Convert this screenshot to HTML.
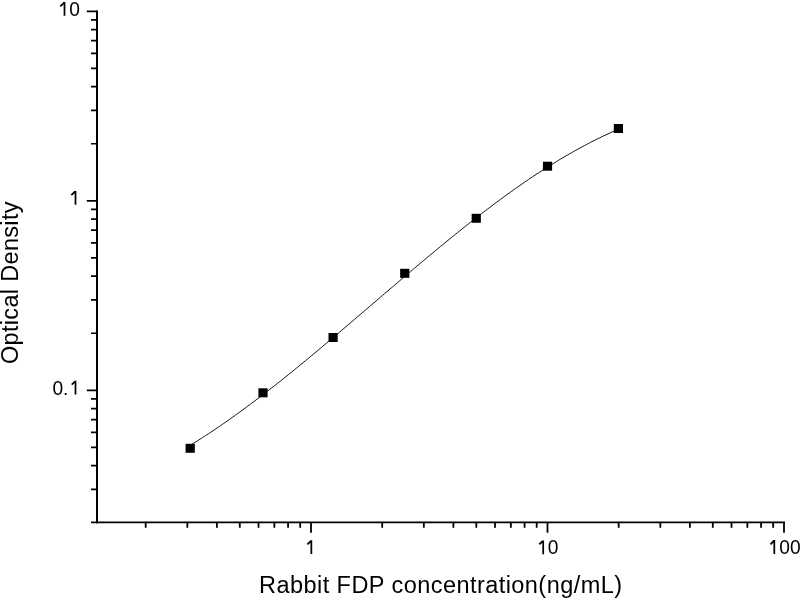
<!DOCTYPE html>
<html><head><meta charset="utf-8"><style>
html,body{margin:0;padding:0;background:#fff;}
body{width:800px;height:600px;overflow:hidden;}
svg{display:block;will-change:transform;font-family:"Liberation Sans",sans-serif;}
</style></head><body>
<svg width="800" height="600" viewBox="0 0 800 600">
<rect width="800" height="600" fill="#fff"/>
<path d="M97.0 10.6V523.1999999999999" stroke="#000" stroke-width="2" fill="none"/>
<path d="M96.0 522.4H785.0" stroke="#000" stroke-width="1.6" fill="none"/>
<path d="M91.0 522.40H97.0M91.0 489.39H97.0M91.0 465.71H97.0M91.0 447.35H97.0M91.0 432.34H97.0M91.0 419.65H97.0M91.0 408.66H97.0M91.0 398.97H97.0M86.8 390.30H97.0M91.0 333.25H97.0M91.0 299.89H97.0M91.0 276.21H97.0M91.0 257.85H97.0M91.0 242.84H97.0M91.0 230.15H97.0M91.0 219.16H97.0M91.0 209.47H97.0M86.8 200.80H97.0M91.0 143.75H97.0M91.0 110.39H97.0M91.0 86.71H97.0M91.0 68.35H97.0M91.0 53.34H97.0M91.0 40.65H97.0M91.0 29.66H97.0M91.0 19.97H97.0M86.8 11.30H97.0" stroke="#000" stroke-width="1.7" fill="none"/>
<path d="M145.69 522.4V527.7M187.34 522.4V527.7M216.89 522.4V527.7M239.81 522.4V527.7M258.53 522.4V527.7M274.37 522.4V527.7M288.08 522.4V527.7M300.18 522.4V527.7M311.00 522.4V532.7M382.19 522.4V527.7M423.84 522.4V527.7M453.39 522.4V527.7M476.31 522.4V527.7M495.03 522.4V527.7M510.87 522.4V527.7M524.58 522.4V527.7M536.68 522.4V527.7M547.50 522.4V532.7M618.69 522.4V527.7M660.34 522.4V527.7M689.89 522.4V527.7M712.81 522.4V527.7M731.53 522.4V527.7M747.37 522.4V527.7M761.08 522.4V527.7M773.18 522.4V527.7M784.00 522.4V532.7" stroke="#000" stroke-width="1.8" fill="none"/>
<polyline points="191.53,444.51 193.68,443.18 195.83,441.85 197.97,440.50 200.12,439.14 202.26,437.76 204.41,436.38 206.56,434.98 208.70,433.58 210.85,432.16 213.00,430.73 215.14,429.29 217.29,427.84 219.44,426.38 221.58,424.91 223.73,423.43 225.88,421.93 228.02,420.43 230.17,418.92 232.32,417.40 234.46,415.86 236.61,414.32 238.76,412.77 240.90,411.21 243.05,409.64 245.20,408.07 247.34,406.48 249.49,404.88 251.64,403.28 253.78,401.67 255.93,400.04 258.07,398.42 260.22,396.78 262.37,395.13 264.51,393.48 266.66,391.82 268.81,390.16 270.95,388.48 273.10,386.80 275.25,385.11 277.39,383.42 279.54,381.72 281.69,380.01 283.83,378.30 285.98,376.58 288.13,374.85 290.27,373.12 292.42,371.39 294.57,369.64 296.71,367.90 298.86,366.14 301.01,364.39 303.15,362.62 305.30,360.86 307.45,359.08 309.59,357.31 311.74,355.53 313.88,353.74 316.03,351.96 318.18,350.16 320.32,348.37 322.47,346.57 324.62,344.77 326.76,342.96 328.91,341.15 331.06,339.34 333.20,337.53 335.35,335.71 337.50,333.89 339.64,332.07 341.79,330.25 343.94,328.42 346.08,326.59 348.23,324.76 350.38,322.93 352.52,321.10 354.67,319.26 356.82,317.43 358.96,315.59 361.11,313.76 363.26,311.92 365.40,310.08 367.55,308.24 369.69,306.40 371.84,304.56 373.99,302.72 376.13,300.88 378.28,299.04 380.43,297.21 382.57,295.37 384.72,293.53 386.87,291.69 389.01,289.86 391.16,288.02 393.31,286.19 395.45,284.36 397.60,282.53 399.75,280.70 401.89,278.87 404.04,277.04 406.19,275.22 408.33,273.40 410.48,271.58 412.63,269.76 414.77,267.95 416.92,266.14 419.07,264.33 421.21,262.52 423.36,260.72 425.50,258.92 427.65,257.13 429.80,255.34 431.94,253.55 434.09,251.77 436.24,249.99 438.38,248.21 440.53,246.44 442.68,244.68 444.82,242.91 446.97,241.16 449.12,239.41 451.26,237.66 453.41,235.92 455.56,234.18 457.70,232.45 459.85,230.73 462.00,229.01 464.14,227.30 466.29,225.59 468.44,223.89 470.58,222.20 472.73,220.51 474.88,218.83 477.02,217.16 479.17,215.49 481.32,213.83 483.46,212.18 485.61,210.54 487.75,208.91 489.90,207.28 492.05,205.66 494.19,204.05 496.34,202.44 498.49,200.85 500.63,199.27 502.78,197.69 504.93,196.12 507.07,194.56 509.22,193.01 511.37,191.47 513.51,189.94 515.66,188.42 517.81,186.91 519.95,185.41 522.10,183.92 524.25,182.44 526.39,180.97 528.54,179.51 530.69,178.06 532.83,176.62 534.98,175.20 537.13,173.78 539.27,172.38 541.42,170.98 543.56,169.60 545.71,168.23 547.86,166.87 550.00,165.52 552.15,164.19 554.30,162.87 556.44,161.55 558.59,160.26 560.74,158.97 562.88,157.69 565.03,156.43 567.18,155.18 569.32,153.94 571.47,152.72 573.62,151.51 575.76,150.31 577.91,149.12 580.06,147.95 582.20,146.79 584.35,145.64 586.50,144.51 588.64,143.38 590.79,142.28 592.94,141.18 595.08,140.10 597.23,139.03 599.37,137.97 601.52,136.93 603.67,135.90 605.81,134.88 607.96,133.88 610.11,132.89 612.25,131.91 614.40,130.95 616.55,130.00 618.69,129.06" stroke="#111" stroke-width="1" fill="none"/>
<rect x="185.60" y="443.80" width="9.2" height="9" fill="#000"/>
<rect x="258.40" y="388.30" width="9.2" height="9" fill="#000"/>
<rect x="328.50" y="333.00" width="9.2" height="9" fill="#000"/>
<rect x="400.15" y="268.80" width="9.2" height="9" fill="#000"/>
<rect x="471.65" y="213.80" width="9.2" height="9" fill="#000"/>
<rect x="542.90" y="161.70" width="9.2" height="9" fill="#000"/>
<rect x="613.80" y="124.00" width="9.2" height="9" fill="#000"/>
<g font-size="19.2"><text transform="translate(74.5,15.9) scale(1,1.05)" text-anchor="middle">0</text><text transform="translate(57.8,394.6) scale(1,1.05)" text-anchor="middle">0</text><text transform="translate(553.1,554.1) scale(1,1.05)" text-anchor="middle">0</text><text transform="translate(784.7,554.1) scale(1,1.05)" text-anchor="middle">0</text><text transform="translate(795.35,554.1) scale(1,1.05)" text-anchor="middle">0</text><text x="65.75" y="394.6" text-anchor="middle">.</text></g>
<path d="M64.5 2.00V15.8M64.2 2.60L60.30 6.30M75.5 190.90V204.7M75.2 191.50L71.30 195.20M75.5 380.80V394.6M75.2 381.40L71.70 384.60M311.35 540.20V554.0M311.05 540.80L307.40 544.40M543.2 540.40V554.2M542.9000000000001 541.00L539.30 544.25M774.3 540.10V553.9M774.0 540.70L770.55 544.30" stroke="#000" stroke-width="1.75" fill="none"/>
<text x="259" y="593" font-size="23.5" textLength="363" lengthAdjust="spacing">Rabbit FDP concentration(ng/mL)</text>
<text transform="translate(17.5,364) rotate(-90)" font-size="23.5" textLength="162.5" lengthAdjust="spacing">Optical Density</text>
</svg>
</body></html>
